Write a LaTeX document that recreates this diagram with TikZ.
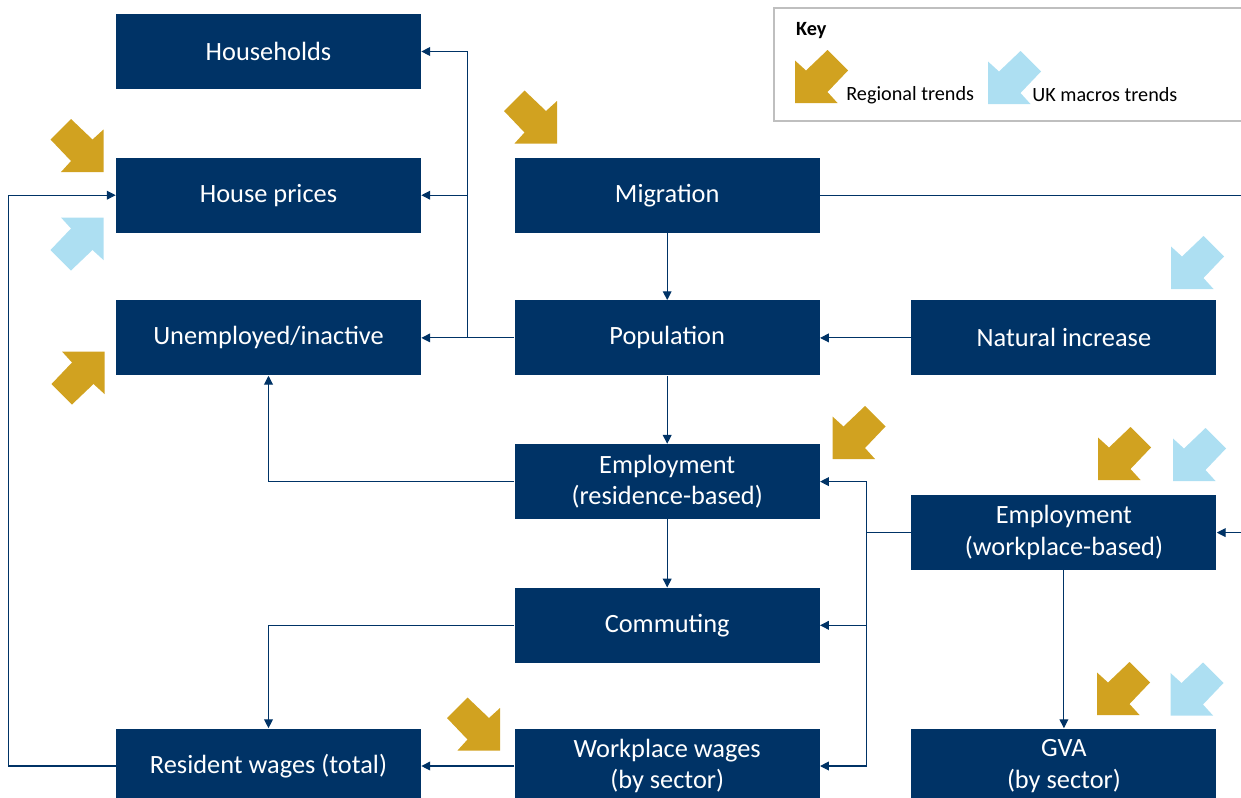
\documentclass[tikz,border=0pt]{standalone}
\usepackage{fontspec}
\setmainfont{Carlito}
\usepackage{tikz}
\usetikzlibrary{arrows.meta,positioning}
\definecolor{BoxNavy}{RGB}{0,51,102}
\definecolor{TrendGold}{RGB}{209,162,32}
\definecolor{TrendBlue}{RGB}{173,223,242}
\definecolor{KeyGrey}{RGB}{191,191,191}

\begin{document}
\begin{tikzpicture}[>={Triangle[length=5pt,width=5pt]},
    block/.style={fill=BoxNavy, text=white, minimum width=6.1cm, minimum height=1.5cm, align=center, inner sep=0pt, font=\fontsize{15}{18}\selectfont},
    link/.style={->, draw=BoxNavy, line width=0.6pt},
    trendarrow/.pic={\path[pic actions] (-0.53,-0.53) -- (-0.53,0.32) -- (-0.31,0.12) -- (0.12,0.53) -- (0.53,0.12) -- (0.12,-0.31) -- (0.32,-0.53) -- cycle;}]
    \useasboundingbox (0,0) rectangle (24.82,-15.96);
    \coordinate (edge) at (24.82,0);

    % left column
    \node [block] (hh) at (5.37,-1.03) {Households};
    \node [block, below=1.36cm of hh] (prices) {House prices};
    \node [block, below=1.34cm of prices] (unemp) {Unemployed/inactive};

    % middle column
    \node [block, right=1.86cm of prices] (migration) {Migration};
    \node [block, right=1.86cm of unemp] (population) {Population};
    \node [block, below=1.36cm of population] (empres) {Employment\\(residence-based)};
    \node [block, below=1.36cm of empres] (commuting) {Commuting};
    \node [block, below=1.30cm of commuting] (workwages) {Workplace wages\\(by sector)};
    \node [block, left=1.86cm of workwages] (reswages) {Resident wages (total)};

    % right column
    \node [block, right=1.82cm of population] (natural) {Natural increase};
    \node [block, below=2.38cm of natural] (empwork) {Employment\\(workplace-based)};
    \node [block, right=1.82cm of workwages] (gva) {GVA\\(by sector)};

    % key
    \draw [KeyGrey, line width=1.1pt] (15.48,-0.16) rectangle (25.3,-2.42);
    \node [anchor=west, font=\fontsize{11.5}{14}\selectfont\bfseries] (keytitle) at (15.8,-0.62) {Key};
    \pic [fill=TrendGold] at (16.43,-1.53) {trendarrow};
    \node [anchor=west, inner sep=0pt, font=\fontsize{11.5}{14}\selectfont] (keygold) at (16.92,-1.9) {Regional trends};
    \pic [fill=TrendBlue] at (20.29,-1.55) {trendarrow};
    \node [anchor=west, inner sep=0pt, font=\fontsize{11.5}{14}\selectfont] (keyblue) at (20.64,-1.9) {UK macros trends};

    % trend arrows
    \pic [fill=TrendGold, rotate=90] at (1.54,-2.91) {trendarrow};
    \pic [fill=TrendBlue, rotate=180] at (1.54,-4.88) {trendarrow};
    \pic [fill=TrendGold, rotate=180] at (1.56,-7.56) {trendarrow};
    \pic [fill=TrendGold, rotate=90] at (10.61,-2.34) {trendarrow};
    \pic [fill=TrendBlue] at (23.95,-5.25) {trendarrow};
    \pic [fill=TrendGold] at (17.18,-8.65) {trendarrow};
    \pic [fill=TrendGold] at (22.49,-9.07) {trendarrow};
    \pic [fill=TrendBlue] at (23.99,-9.09) {trendarrow};
    \pic [fill=TrendGold, rotate=90] at (9.47,-14.48) {trendarrow};
    \pic [fill=TrendGold] at (22.47,-13.77) {trendarrow};
    \pic [fill=TrendBlue] at (23.94,-13.78) {trendarrow};

    % connectors
    \path (population.west) ++(-0.94,0) coordinate (popfork);
    \draw [link] (population.west) -- (unemp.east);
    \draw [link] (popfork) |- (prices.east);
    \draw [link] (popfork) |- (hh.east);
    \draw [link] (migration) -- (population);
    \draw [link, -] (migration.east) -- (migration.east -| edge);
    \draw [link] (natural) -- (population);
    \draw [link] (population) -- (empres);
    \draw [link] (empres.west) -| (unemp.south);
    \draw [link] (empres) -- (commuting);
    \path (empwork.west) ++(-0.9,0) coordinate (workfork);
    \draw [link, -] (empwork.west) -- (workfork);
    \draw [link] (workfork) |- (empres.east);
    \draw [link] (workfork) |- (commuting.east);
    \draw [link] (workfork) |- (workwages.east);
    \draw [link] (empwork.east -| edge) -- (empwork.east);
    \draw [link] (empwork) -- (gva);
    \draw [link] (commuting.west) -| (reswages.north);
    \draw [link] (workwages) -- (reswages);
    \draw [link] (reswages.west) -- ++(-2.14,0) |- (prices.west);
\end{tikzpicture}
\end{document}
